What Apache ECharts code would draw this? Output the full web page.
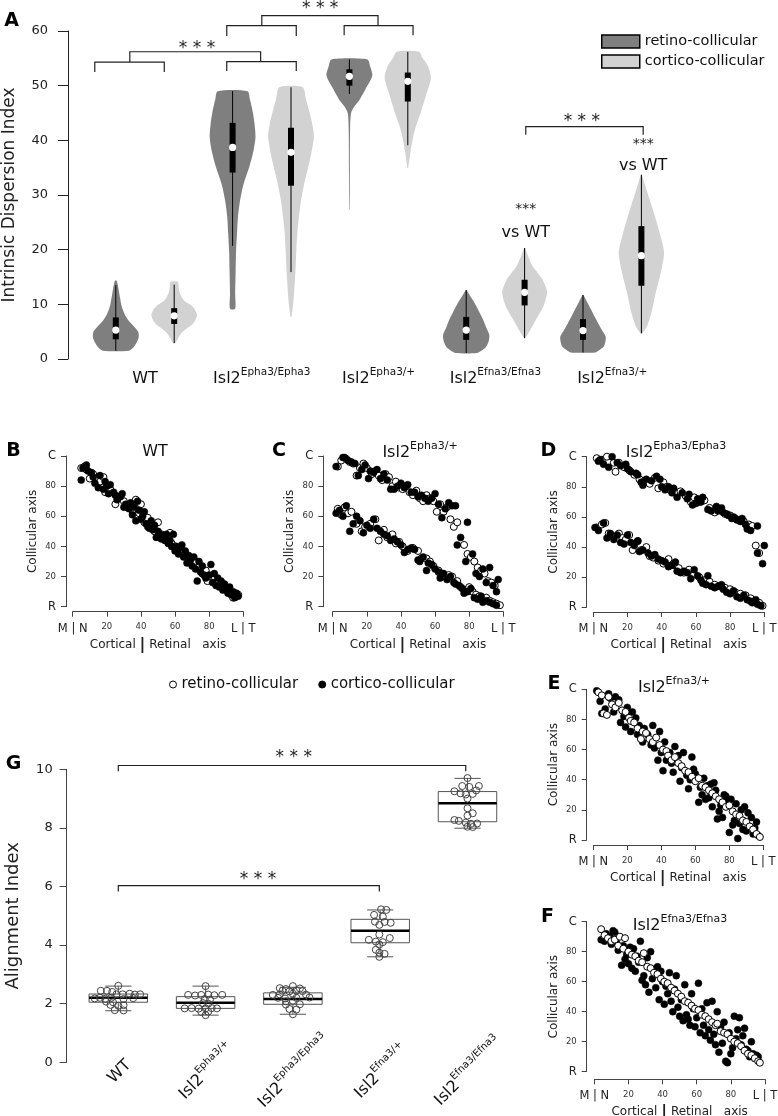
<!DOCTYPE html>
<html><head><meta charset="utf-8">
<script src="https://cdn.jsdelivr.net/npm/echarts@6/dist/echarts.min.js"></script>
<style>html,body{margin:0;padding:0;background:#fff}#c{width:778px;height:1116px}</style>
</head><body><div id="c"></div>
<script>
// ---------------- DATA ----------------
// Panel A: violin groups and density profiles ([value, relative density])
const groupLabelsA = ['WT', 'Isl2^Epha3/Epha3', 'Isl2^Epha3/+', 'Isl2^Efna3/Efna3', 'Isl2^Efna3/+'];
const densWTret = [[1.5,0.55],[2.2,0.77],[3,0.89],[4,0.98],[5,0.96],[6,0.77],[7,0.55],[8,0.40],[9,0.30],[10,0.23],[11,0.19],[12,0.15],[13,0.11],[14.3,0.04]];
const densWTcor = [[2.9,0.04],[3.8,0.17],[4.7,0.30],[5.5,0.51],[6.2,0.74],[7,0.89],[8,0.98],[9,0.89],[9.8,0.74],[10.5,0.47],[11.3,0.32],[12.2,0.23],[13.1,0.19],[14.1,0.16]];
const densEpha3HomRet = [[9.2,0.11],[12,0.11],[16,0.13],[20,0.15],[23,0.19],[26,0.23],[29,0.32],[32,0.47],[35.2,0.72],[38,0.89],[40.6,0.98],[43,0.94],[45.5,0.85],[47.5,0.74],[49,0.64]];
const densEpha3HomCor = [[7.7,0.02],[10.8,0.11],[14,0.16],[17,0.20],[20,0.23],[23,0.27],[26,0.34],[29,0.43],[32.7,0.60],[36.4,0.81],[40.6,0.98],[43,0.91],[45.5,0.77],[47.5,0.64],[49.7,0.50]];
const densEpha3HetRet = [[27.3,0.01],[35,0.02],[42,0.03],[45,0.07],[46.2,0.21],[47.4,0.43],[49.3,0.68],[51.8,0.98],[53.5,0.89],[54.8,0.77]];
const densEpha3HetCor = [[34.9,0.01],[37.7,0.11],[40.2,0.21],[42.6,0.35],[45,0.55],[48.1,0.77],[51.4,0.99],[53.5,0.87],[55,0.64],[56.2,0.47]];
const densEfna3HomRet = [[1.1,0.47],[1.6,0.68],[2.2,0.85],[3.2,0.96],[4.4,0.99],[5.8,0.85],[7.3,0.71],[8.5,0.57],[9.7,0.43],[10.8,0.28],[11.8,0.13],[12.6,0.02]];
const densEfna3HomCor = [[3.8,0.02],[5.3,0.24],[7.3,0.50],[9.7,0.81],[12.3,0.96],[14.5,0.77],[15.7,0.57],[16.9,0.35],[18.7,0.16],[20.3,0.02]];
const densEfna3HetRet = [[1.2,0.53],[1.7,0.72],[2.3,0.89],[3.2,0.96],[4.1,0.97],[5.3,0.81],[6.6,0.64],[7.8,0.49],[9,0.35],[10.3,0.19],[11.7,0.02]];
const densEfna3HetCor = [[4.7,0.04],[6.1,0.25],[8.5,0.43],[12.2,0.62],[15.8,0.83],[19.5,0.97],[23.1,0.78],[26.8,0.53],[30.4,0.26],[33.7,0.02]];
// [whisker low, q1, median, q3, whisker high]
const statsWTret = [1.5, 3.6, 5.3, 7.6, 13.5];
const statsWTcor = [2.9, 6.4, 7.9, 9.3, 13.6];
const statsEpha3HomRet = [20.7, 34.1, 38.7, 43.2, 49];
const statsEpha3HomCor = [15.9, 31.7, 37.8, 42.3, 49.7];
const statsEpha3HetRet = [48.5, 50, 51.7, 53, 54.8];
const statsEpha3HetCor = [39.1, 47.1, 50.8, 52.4, 56.2];
const statsEfna3HomRet = [1.1, 3.5, 5.3, 7.7, 12.6];
const statsEfna3HomCor = [3.8, 9.8, 12.2, 14.5, 20.3];
const statsEfna3HetRet = [1.2, 3.5, 5.2, 7.3, 11.7];
const statsEfna3HetCor = [4.7, 13.4, 18.9, 24.3, 33.7];
// significance brackets in A: [x1, x2, barValue, legEndValue]
const bracketsA = [[-0.36,0.83,54.3,52.5],[1.90,3.09,54.4,52.7],[0.24,2.48,56.2,54.35],[1.90,3.09,61.0,59.1],[3.91,5.09,61.0,59.2],[2.50,4.49,62.8,61.0],[7.02,9.03,42.5,41.0]];
const annotA = [[1.39,56.8],[3.5,64.1],[7.98,43.5],[9.03,39.2],[9.03,35.3],[7.02,27.3],[7.02,23.0]];
const annotAText = ['* * *','* * *','* * *','***','vs WT','***','vs WT'];
const annotAKind = ['big','big','big','small','vs','small','vs'];

// Panels B-F: [cortical/retinal axis, collicular axis]
const wtRetino = [[5,92],[7,93],[8,91],[10,85],[12,88],[14,84],[16,83],[18,86],[19,76],[22,78],[25,68],[27,73],[30,70],[32,66],[35,64],[37,71],[39,62],[40,68],[42,56],[44,59],[46,54],[48,50],[50,56],[52,48],[54,47],[57,49],[58,42],[60,40],[62,38],[64,36],[66,35],[68,30],[70,29],[72,30],[74,26],[76,22],[78,24],[79,17],[81,20],[83,18],[85,16],[87,14],[89,12],[91,10],[93,8],[94,6],[96,7],[97,8]];
const wtCortico = [[5,84],[6,92],[8,94],[9,90],[11,89],[12,86],[13,82],[15,79],[16,87],[18,78],[19,83],[20,80],[21,75],[22,81],[24,76],[25,74],[26,71],[28,73],[29,75],[30,66],[31,68],[33,65],[34,69],[35,61],[36,66],[37,57],[38,70],[39,64],[40,58],[41,60],[42,63],[43,55],[44,53],[45,52],[46,57],[47,51],[48,54],[49,46],[50,50],[51,48],[52,45],[53,47],[54,44],[55,48],[56,42],[57,44],[58,40],[59,48],[60,37],[61,40],[62,35],[63,39],[64,41],[65,33],[66,37],[67,29],[68,34],[69,31],[70,27],[71,33],[72,25],[73,17],[74,30],[75,23],[76,27],[77,21],[78,19],[80,21],[81,28],[82,16],[83,22],[84,14],[85,19],[86,13],[87,17],[88,11],[89,15],[90,12],[91,9],[92,13],[93,8],[94,10],[95,6],[96,9],[97,7]];
const epha3HetRetino = [[3,93],[5,97],[8,98],[10,96],[12,95],[14,87],[16,92],[18,95],[20,92],[23,88],[25,90],[27,87],[29,84],[31,88],[33,86],[35,80],[37,83],[39,79],[41,78],[43,80],[45,76],[47,74],[49,77],[51,72],[53,70],[55,74],[57,72],[59,70],[61,63],[63,68],[65,63],[67,66],[69,58],[71,53],[73,56],[77,41],[79,35],[81,33],[83,30],[85,26],[87,24],[89,22],[91,17],[93,16],[95,14],
  [3,65],[5,61],[7,66],[9,62],[11,63],[14,55],[17,50],[19,53],[22,55],[25,58],[27,44],[30,51],[32,46],[35,48],[37,42],[39,43],[41,40],[44,37],[47,39],[50,37],[52,32],[55,32],[57,30],[59,27],[62,24],[64,22],[66,20],[68,21],[70,20],[73,17],[75,13],[78,11],[80,13],[82,10],[84,8],[86,7],[88,5],[90,6],[92,4],[94,3],[96,2],[98,1]];
const epha3HetCortico = [[2,93],[6,99],[7,99],[9,97],[11,96],[13,95],[15,87],[17,91],[19,94],[21,85],[22,90],[24,89],[26,91],[28,85],[30,88],[32,84],[34,78],[36,78],[38,80],[40,82],[42,79],[44,81],[46,76],[48,76],[50,73],[52,74],[54,72],[56,70],[58,72],[60,75],[62,68],[64,59],[66,65],[68,69],[70,67],[72,67],[73,41],[75,46],[78,30],[79,56],[82,35],[84,22],[86,20],[88,25],[90,16],[92,26],[94,14],[96,10],[97,18],
  [2,62],[4,64],[6,60],[8,67],[10,50],[12,55],[14,60],[16,57],[18,49],[20,54],[22,52],[24,58],[26,52],[28,50],[30,48],[32,47],[34,44],[36,45],[38,43],[40,41],[42,36],[44,38],[46,39],[48,38],[50,31],[51,30],[53,33],[55,24],[56,29],[58,28],[60,25],[62,23],[63,19],[65,22],[67,18],[69,20],[71,16],[72,15],[74,14],[76,12],[77,9],[79,10],[81,12],[83,6],[85,5],[87,7],[88,3],[90,4],[92,3],[94,2],[96,1]];
const epha3HomRetino = [[2,99],[5,98],[8,100],[12,96],[13,90],[15,96],[18,93],[21,91],[24,88],[27,85],[30,84],[33,82],[36,86],[38,79],[41,83],[43,80],[45,78],[48,76],[51,77],[54,74],[57,70],[59,73],[62,70],[65,71],[68,66],[71,63],[74,65],[77,62],[80,61],[83,59],[85,58],[88,57],[91,55],[93,54],[95,41],[97,36],
  [2,53],[5,55],[7,56],[9,49],[12,47],[15,49],[17,46],[19,45],[21,48],[23,38],[26,44],[28,38],[31,40],[33,34],[35,33],[38,31],[41,29],[44,32],[47,28],[50,26],[53,23],[56,25],[59,22],[62,20],[65,18],[68,17],[71,15],[74,14],[77,13],[80,12],[83,10],[86,9],[89,8],[92,6],[95,4],[97,3],[99,1]];
const epha3HomCortico = [[3,97],[4,98],[6,95],[9,93],[11,100],[14,96],[16,94],[19,95],[20,92],[22,90],[25,89],[26,88],[28,83],[29,81],[31,85],[34,84],[37,87],[39,85],[40,80],[42,78],[44,80],[46,76],[47,79],[49,73],[52,76],[55,72],[56,75],[58,68],[60,69],[61,72],[63,70],[64,73],[67,65],[69,64],[72,67],[73,64],[75,66],[76,63],[78,62],[79,61],[81,59],[82,60],[84,58],[86,57],[87,59],[89,55],[90,52],[92,51],[96,54],[96,36],[99,29],[100,41],
  [1,53],[3,51],[6,56],[8,46],[10,49],[12,45],[14,48],[16,43],[18,42],[20,48],[22,43],[24,41],[26,44],[27,37],[29,38],[32,36],[34,34],[36,35],[38,32],[40,31],[42,30],[44,27],[46,28],[48,30],[49,24],[51,23],[53,24],[55,23],[57,19],[59,25],[61,21],[63,18],[64,16],[66,15],[67,21],[69,14],[71,13],[73,14],[75,15],[76,12],[78,10],[80,9],[82,11],[84,7],[86,6],[88,8],[90,5],[92,4],[93,3],[95,5],[96,2],[98,1]];
const efna3HetRetino = [[3,98],[5,96],[6,84],[8,83],[9,95],[11,90],[13,88],[15,91],[17,86],[19,85],[21,81],[22,79],[24,78],[26,74],[28,67],[29,72],[31,71],[33,67],[35,65],[37,68],[39,63],[41,60],[43,59],[44,56],[46,53],[48,55],[50,51],[52,49],[54,46],[56,45],[58,42],[60,39],[62,41],[64,36],[66,35],[68,33],[70,31],[72,29],[74,27],[76,25],[78,22],[80,23],[82,19],[84,17],[86,16],[88,13],[90,12],[92,9],[94,7],[96,4],[98,2]];
const efna3HetCortico = [[2,99],[4,92],[5,84],[7,87],[9,97],[10,94],[12,85],[13,95],[15,93],[16,78],[18,82],[19,75],[20,88],[22,72],[23,85],[25,81],[26,70],[27,76],[29,65],[30,74],[32,70],[34,63],[35,76],[36,61],[38,53],[39,72],[40,58],[41,46],[42,65],[43,53],[45,58],[46,51],[47,45],[48,62],[50,56],[51,39],[52,48],[53,58],[55,43],[56,34],[57,40],[58,55],[59,47],[60,44],[62,25],[63,35],[64,30],[65,41],[66,27],[67,36],[68,28],[69,37],[70,22],[71,38],[72,33],[73,14],[74,19],[75,23],[76,15],[77,30],[78,29],[79,26],[80,5],[81,27],[82,10],[83,13],[84,24],[85,1],[86,11],[87,20],[88,7],[89,22],[90,6],[91,18],[92,9],[93,15],[94,4],[95,8],[96,12],[97,3]];
const efna3HomRetino = [[4,95],[6,91],[8,89],[10,87],[12,88],[14,84],[15,90],[17,82],[18,89],[20,80],[22,78],[24,77],[26,74],[28,73],[29,79],[31,70],[33,69],[35,66],[37,65],[39,62],[41,60],[43,59],[45,56],[47,54],[49,52],[51,50],[53,47],[55,46],[57,44],[59,42],[61,41],[63,38],[65,37],[67,35],[69,33],[71,31],[72,32],[74,27],[76,26],[78,25],[80,22],[82,20],[84,19],[86,17],[88,14],[90,12],[92,11],[94,9],[96,7],[97,6]];
const efna3HomCortico = [[4,88],[6,87],[7,92],[9,90],[10,85],[11,94],[12,93],[13,86],[14,81],[16,71],[17,84],[18,75],[19,78],[20,72],[21,83],[22,69],[23,82],[24,67],[25,77],[26,73],[27,87],[28,61],[29,64],[30,58],[31,76],[32,53],[33,80],[34,62],[35,68],[36,56],[37,70],[38,48],[39,67],[40,60],[41,45],[42,57],[43,52],[44,66],[45,47],[46,40],[47,55],[48,64],[49,43],[50,37],[51,48],[52,34],[53,58],[54,38],[55,35],[56,31],[57,52],[58,42],[59,30],[60,36],[61,59],[62,26],[63,42],[64,31],[65,24],[66,46],[67,28],[68,21],[69,47],[70,25],[71,18],[72,40],[73,13],[74,30],[75,19],[76,33],[77,7],[78,6],[79,26],[80,12],[81,16],[82,37],[83,22],[84,28],[85,36],[86,18],[87,24],[88,29],[89,15],[90,14],[91,10],[92,20],[93,12],[94,9],[95,11],[96,10]];
const scatterTitles = ['WT', 'Isl2^Epha3/+', 'Isl2^Epha3/Epha3', 'Isl2^Efna3/+', 'Isl2^Efna3/Efna3'];

// Panel G
const groupLabelsG = ['WT', 'Isl2^Epha3/+', 'Isl2^Epha3/Epha3', 'Isl2^Efna3/+', 'Isl2^Efna3/Efna3'];
const boxWT = [1.76, 2.05, 2.2, 2.33, 2.6];
const boxEpha3Het = [1.61, 1.84, 2.03, 2.24, 2.6];
const boxEpha3Hom = [1.64, 1.98, 2.16, 2.37, 2.56];
const boxEfna3Het = [3.6, 4.08, 4.49, 4.88, 5.2];
const boxEfna3Hom = [7.99, 8.21, 8.84, 9.24, 9.69];
// [jitter, alignment index]
const ptsWT = [[0,2.61],[-0.2,2.44],[-0.13,2.44],[-0.07,2.40],[-0.02,2.32],[0.05,2.32],[0.13,2.34],[0.19,2.31],[0.25,2.32],[-0.27,2.18],[-0.21,2.20],[-0.15,2.17],[-0.08,2.20],[0.06,2.16],[0.17,2.19],[-0.14,2.07],[-0.06,2.05],[-0.09,1.96],[0,1.93],[0.06,1.95],[-0.04,1.78],[0.06,1.77]];
const ptsEpha3Het = [[0,2.6],[-0.2,2.3],[-0.12,2.28],[-0.05,2.3],[0.03,2.31],[0.1,2.29],[0.19,2.3],[-0.01,2.16],[0.05,2.14],[-0.03,2.02],[0.03,2.0],[-0.24,1.84],[-0.16,1.85],[-0.08,1.83],[0,1.84],[0.07,1.85],[0.13,1.84],[-0.05,1.72],[0.03,1.73],[0,1.61]];
const ptsEpha3Hom = [[0,2.6],[-0.15,2.53],[-0.08,2.5],[0.08,2.52],[-0.12,2.44],[-0.04,2.42],[0.04,2.45],[0.11,2.43],[-0.23,2.3],[-0.15,2.32],[0,2.34],[0.15,2.31],[-0.17,2.2],[-0.09,2.18],[0.04,2.2],[0.19,2.21],[-0.08,2.08],[0,2.1],[-0.08,1.97],[0.08,1.98],[-0.04,1.82],[0.04,1.8],[0,1.64]];
const ptsEfna3Het = [[0.01,5.22],[0.07,5.2],[-0.07,5.03],[0.03,4.97],[-0.06,4.8],[0.05,4.79],[0.12,4.76],[-0.01,4.69],[-0.01,4.36],[0.11,4.24],[-0.13,4.18],[-0.05,4.12],[0.03,4.1],[-0.01,4.02],[-0.05,3.84],[-0.01,3.74],[0.05,3.7],[-0.01,3.6]];
const ptsEfna3Hom = [[0,9.7],[-0.06,9.43],[0.02,9.4],[0.13,9.43],[-0.15,9.25],[-0.08,9.18],[-0.02,9.14],[0.06,9.16],[0.1,9.28],[0,9.0],[0,8.67],[0.06,8.5],[0,8.42],[-0.15,8.27],[-0.1,8.24],[-0.02,8.18],[0.04,8.14],[0.11,8.15],[0,8.04],[0.06,8.03]];
const bracketsG = [[0,3.98,10.13,9.93],[0,2.99,6.03,5.83]];
const annotG = [[2.01,10.41],[1.6,6.25]];
const annotGText = ['* * *','* * *'];

// ---------------- BUILD ----------------
const FONT = 'DejaVu Sans';
const DARK = '#7f7f7f', LIGHT = '#d2d2d2';
const violinDensity = [densWTret, densWTcor, densEpha3HomRet, densEpha3HomCor, densEpha3HetRet, densEpha3HetCor, densEfna3HomRet, densEfna3HomCor, densEfna3HetRet, densEfna3HetCor];
const violinStats = [statsWTret, statsWTcor, statsEpha3HomRet, statsEpha3HomCor, statsEpha3HetRet, statsEpha3HetCor, statsEfna3HomRet, statsEfna3HomCor, statsEfna3HetRet, statsEfna3HetCor];
const boxStats = [boxWT, boxEpha3Het, boxEpha3Hom, boxEfna3Het, boxEfna3Hom];
const groupPts = [ptsWT, ptsEpha3Het, ptsEpha3Hom, ptsEfna3Het, ptsEfna3Hom];
const HALF = 0.4;

function rich(s) {
  const p = s.split('^');
  return p.length > 1 ? '{m|' + p[0] + '}{s|' + p[1] + '}' : '{m|' + p[0] + '}';
}

function violinRender(color) {
  return function (params, api) {
    const idx = api.value(0);
    const prof = violinDensity[idx], st = violinStats[idx];
    const pts = [];
    for (let k = 0; k < prof.length; k++) pts.push(api.coord([idx + prof[k][1] * HALF, prof[k][0]]));
    for (let k = prof.length - 1; k >= 0; k--) pts.push(api.coord([idx - prof[k][1] * HALF, prof[k][0]]));
    const lo = api.coord([idx, st[0]]), q1 = api.coord([idx, st[1]]), md = api.coord([idx, st[2]]), q3 = api.coord([idx, st[3]]), hi = api.coord([idx, st[4]]);
    return { type: 'group', children: [
      { type: 'polygon', shape: { points: pts, smooth: 0.25 }, style: { fill: color } },
      { type: 'line', shape: { x1: lo[0], y1: lo[1], x2: hi[0], y2: hi[1] }, style: { stroke: '#000', lineWidth: 1 } },
      { type: 'rect', shape: { x: q1[0] - 3, y: q3[1], width: 6, height: q1[1] - q3[1] }, style: { fill: '#000' } },
      { type: 'circle', shape: { cx: md[0], cy: md[1], r: 3.6 }, style: { fill: '#fff' } }
    ] };
  };
}

function bracketRender(params, api) {
  const a = api.coord([api.value(0), api.value(3)]);
  const b = api.coord([api.value(0), api.value(2)]);
  const c = api.coord([api.value(1), api.value(2)]);
  const d = api.coord([api.value(1), api.value(3)]);
  return { type: 'polyline', shape: { points: [a, b, c, d] }, style: { stroke: '#222', lineWidth: 1.2, fill: null } };
}

const textKinds = {
  big: { fontSize: 17, fill: '#222' },
  small: { fontSize: 14, fill: '#222' },
  vs: { fontSize: 16, fill: '#111' }
};

function scatterAxes(gi, xOff, yOff) {
  const lc = { color: '#444', width: 1 };
  return {
    x: { gridIndex: gi, type: 'value', min: 0, max: 100, interval: 20, offset: xOff,
      axisLine: { show: true, onZero: false, lineStyle: lc }, axisTick: { show: true, length: 5, lineStyle: lc },
      splitLine: { show: false },
      axisLabel: { margin: 11, fontFamily: FONT, fontSize: 8.5, color: '#333', showMinLabel: true, showMaxLabel: true,
        formatter: v => v === 0 ? '{b|M | N}' : v === 100 ? '{b|L | T}' : String(v),
        rich: { b: { fontSize: 11.5, fontFamily: FONT, color: '#222' } } },
      name: '{t|Cortical }{bar||}{t| Retinal   axis}', nameLocation: 'middle', nameGap: 25,
      nameTextStyle: { rich: { t: { fontSize: 12, fontFamily: FONT, color: '#222' }, bar: { fontSize: 16, fontWeight: 'bold', fontFamily: FONT, color: '#222' } } }
    },
    y: { gridIndex: gi, type: 'value', min: 0, max: 100, interval: 20, offset: yOff,
      axisLine: { show: true, onZero: false, lineStyle: lc }, axisTick: { show: true, length: 5, lineStyle: lc },
      splitLine: { show: false },
      axisLabel: { margin: 10, fontFamily: FONT, fontSize: 8.5, color: '#333', showMinLabel: true, showMaxLabel: true,
        formatter: v => v === 100 ? '{b|C}' : v === 0 ? '{b|R}' : String(v),
        rich: { b: { fontSize: 11.5, fontFamily: FONT, color: '#222' } } },
      name: 'Collicular axis', nameLocation: 'middle', nameGap: 27,
      nameTextStyle: { fontSize: 12, fontFamily: FONT, color: '#222' }
    }
  };
}

const sB = scatterAxes(1, 5, 6.7), sC = scatterAxes(2, 5, 9.4), sD = scatterAxes(3, 4.7, 6.6), sE = scatterAxes(4, 5, 6.6), sF = scatterAxes(5, 7.6, 7.6);

function scatterSeries(name, data, xi, yi, open, z) {
  return { type: 'scatter', name: name, data: data, xAxisIndex: xi, yAxisIndex: yi, symbol: 'circle', symbolSize: 7, z: z,
    itemStyle: open ? { color: '#fff', borderColor: '#000', borderWidth: 1, opacity: 1 } : { color: '#000', borderColor: '#000', borderWidth: 0.5, opacity: 1 },
    emphasis: { disabled: true }, silent: true };
}

const richTitle = {
  m: { fontSize: 16, fontFamily: FONT, fill: '#111', lineHeight: 20, verticalAlign: 'bottom' },
  s: { fontSize: 11, fontFamily: FONT, fill: '#111', lineHeight: 10, verticalAlign: 'top' }
};

const panelLetters = [['A', 11.5, 21.5], ['B', 13.5, 451.5], ['C', 279, 451], ['D', 548.5, 451], ['E', 554, 684.5], ['F', 547.5, 916.7], ['G', 13.5, 764]];
const titlePos = [[155, 450], [420, 451], [676, 451], [674, 686], [680, 924]];

const graphics = [];
panelLetters.forEach(p => graphics.push({ type: 'text', x: p[1], y: p[2], style: { text: p[0], font: 'bold 19px "DejaVu Sans"', fill: '#000', align: 'center', verticalAlign: 'middle' } }));
scatterTitles.forEach((t, i) => graphics.push({ type: 'text', x: titlePos[i][0], y: titlePos[i][1], style: { text: rich(t), rich: richTitle, align: 'center', verticalAlign: 'middle', fill: '#111', fontFamily: FONT } }));

const G0 = { containLabel: false, outerBoundsMode: 'none' };
const option = {
  animation: false,
  backgroundColor: '#fff',
  textStyle: { fontFamily: FONT },
  grid: [
    Object.assign({ left: 86.6, top: 31, width: 584, height: 328 }, G0),
    Object.assign({ left: 72.7, top: 456, width: 170.6, height: 150.7 }, G0),
    Object.assign({ left: 332.7, top: 456, width: 170.6, height: 150.7 }, G0),
    Object.assign({ left: 593.3, top: 456.7, width: 171, height: 150.6 }, G0),
    Object.assign({ left: 593.3, top: 689.3, width: 170, height: 150.7 }, G0),
    Object.assign({ left: 594.3, top: 921.7, width: 170.7, height: 150 }, G0),
    Object.assign({ left: 74.65, top: 769.3, width: 436.5, height: 293 }, G0)
  ],
  xAxis: [
    { gridIndex: 0, type: 'value', min: -0.5, max: 9.5, show: false, axisLine: { onZero: false } },
    { gridIndex: 0, type: 'category', data: groupLabelsA, position: 'bottom', boundaryGap: true,
      axisLine: { show: false, onZero: false }, axisTick: { show: false }, splitLine: { show: false },
      axisLabel: { margin: 8, interval: 0, formatter: v => rich(v),
        rich: { m: { fontSize: 16, fontFamily: FONT, color: '#111', lineHeight: 20, verticalAlign: 'bottom' },
                s: { fontSize: 10.5, fontFamily: FONT, color: '#111', lineHeight: 8, verticalAlign: 'top' } } } },
    sB.x, sC.x, sD.x, sE.x, sF.x,
    { gridIndex: 6, type: 'value', min: -0.5, max: 4.5, show: false, axisLine: { onZero: false } }
  ],
  yAxis: [
    { gridIndex: 0, type: 'value', min: 0, max: 60, interval: 10, offset: 18.6,
      axisLine: { show: true, onZero: false, lineStyle: { color: '#222', width: 1 } },
      axisTick: { show: true, length: 10, lineStyle: { color: '#222' } },
      splitLine: { show: false },
      axisLabel: { margin: 20, fontSize: 13, fontFamily: FONT, color: '#222' },
      name: 'Intrinsic Dispersion Index', nameLocation: 'middle', nameGap: 50,
      nameTextStyle: { fontSize: 17, fontFamily: FONT, color: '#222' } },
    sB.y, sC.y, sD.y, sE.y, sF.y,
    { gridIndex: 6, type: 'value', min: 0, max: 10, interval: 2, offset: 8,
      axisLine: { show: true, onZero: false, lineStyle: { color: '#444', width: 1 } },
      axisTick: { show: true, length: 7, lineStyle: { color: '#444' } },
      splitLine: { show: false },
      axisLabel: { margin: 14, fontSize: 13, fontFamily: FONT, color: '#222' },
      name: 'Alignment Index', nameLocation: 'middle', nameGap: 44,
      nameTextStyle: { fontSize: 18, fontFamily: FONT, color: '#222' } }
  ],
  legend: [
    { left: 601, top: 34, padding: 0, orient: 'vertical', itemWidth: 38, itemHeight: 13, itemGap: 5, selectedMode: false,
      textStyle: { fontSize: 14.5, fontFamily: FONT, color: '#111' },
      data: [ { name: 'retino-collicular', icon: 'rect', itemStyle: { color: DARK, borderColor: '#000', borderWidth: 1.5 } },
              { name: 'cortico-collicular', icon: 'rect', itemStyle: { color: LIGHT, borderColor: '#000', borderWidth: 1.5 } } ] },
    { left: 169, top: 677, padding: 0, orient: 'horizontal', itemWidth: 7, itemHeight: 7, itemGap: 20, selectedMode: false,
      textStyle: { fontSize: 15, fontFamily: FONT, color: '#111' },
      data: [ { name: 'retino-collicular', icon: 'circle', itemStyle: { color: '#fff', borderColor: '#000', borderWidth: 1 } },
              { name: 'cortico-collicular', icon: 'circle', itemStyle: { color: '#000', borderColor: '#000', borderWidth: 1 } } ] }
  ],
  graphic: { elements: graphics },
  series: [
    { type: 'custom', name: 'retino-collicular', xAxisIndex: 0, yAxisIndex: 0, itemStyle: { color: DARK },
      data: [0, 2, 4, 6, 8].map(i => [i, violinStats[i][2]]), renderItem: violinRender(DARK), silent: true },
    { type: 'custom', name: 'cortico-collicular', xAxisIndex: 0, yAxisIndex: 0, itemStyle: { color: LIGHT },
      data: [1, 3, 5, 7, 9].map(i => [i, violinStats[i][2]]), renderItem: violinRender(LIGHT), silent: true },
    { type: 'custom', name: 'bracketsA', xAxisIndex: 0, yAxisIndex: 0, encode: { x: [0, 1], y: [2, 3] },
      data: bracketsA, renderItem: bracketRender, silent: true, z: 5 },
    { type: 'custom', name: 'annotA', xAxisIndex: 0, yAxisIndex: 0, data: annotA, silent: true, z: 5,
      renderItem: (params, api) => {
        const p = api.coord([api.value(0), api.value(1)]);
        const k = textKinds[annotAKind[params.dataIndex]];
        return { type: 'text', x: p[0], y: p[1], style: { text: annotAText[params.dataIndex], fontSize: k.fontSize, fontFamily: FONT, fill: k.fill, align: 'center', verticalAlign: 'middle' } };
      } },
    // B-F
    scatterSeries('retino-collicular', wtRetino, 2, 1, true, 2),
    scatterSeries('cortico-collicular', wtCortico, 2, 1, false, 3),
    scatterSeries('retino-collicular', epha3HetRetino, 3, 2, true, 2),
    scatterSeries('cortico-collicular', epha3HetCortico, 3, 2, false, 3),
    scatterSeries('retino-collicular', epha3HomRetino, 4, 3, true, 2),
    scatterSeries('cortico-collicular', epha3HomCortico, 4, 3, false, 3),
    scatterSeries('cortico-collicular', efna3HetCortico, 5, 4, false, 2),
    scatterSeries('retino-collicular', efna3HetRetino, 5, 4, true, 3),
    scatterSeries('cortico-collicular', efna3HomCortico, 6, 5, false, 2),
    scatterSeries('retino-collicular', efna3HomRetino, 6, 5, true, 3),
    // G boxes
    { type: 'custom', name: 'boxG', xAxisIndex: 7, yAxisIndex: 6, silent: true, z: 2,
      data: boxStats.map((b, i) => [i].concat(b)), encode: { x: 0, y: [1, 2, 3, 4, 5] },
      renderItem: (params, api) => {
        const i = api.value(0);
        const lo = api.coord([i, api.value(1)]), q1 = api.coord([i, api.value(2)]), md = api.coord([i, api.value(3)]), q3 = api.coord([i, api.value(4)]), hi = api.coord([i, api.value(5)]);
        const bw = api.size([0.67, 0])[0], cw = api.size([0.3, 0])[0];
        const st = { stroke: '#555', lineWidth: 1 };
        return { type: 'group', children: [
          { type: 'line', shape: { x1: lo[0], y1: lo[1], x2: q1[0], y2: q1[1] }, style: st },
          { type: 'line', shape: { x1: q3[0], y1: q3[1], x2: hi[0], y2: hi[1] }, style: st },
          { type: 'line', shape: { x1: lo[0] - cw / 2, y1: lo[1], x2: lo[0] + cw / 2, y2: lo[1] }, style: st },
          { type: 'line', shape: { x1: hi[0] - cw / 2, y1: hi[1], x2: hi[0] + cw / 2, y2: hi[1] }, style: st },
          { type: 'rect', shape: { x: q1[0] - bw / 2, y: q3[1], width: bw, height: q1[1] - q3[1] }, style: { fill: 'none', stroke: '#555', lineWidth: 1 } },
          { type: 'line', shape: { x1: md[0] - bw / 2, y1: md[1], x2: md[0] + bw / 2, y2: md[1] }, style: { stroke: '#000', lineWidth: 2.5 } }
        ] };
      } },
    { type: 'scatter', name: 'pointsG', xAxisIndex: 7, yAxisIndex: 6, symbol: 'circle', symbolSize: 7, z: 3, silent: true,
      itemStyle: { color: 'rgba(255,255,255,0)', borderColor: '#444', borderWidth: 1, opacity: 1 },
      data: [].concat.apply([], groupPts.map((g, i) => g.map(p => [i + p[0], p[1]]))) },
    { type: 'custom', name: 'bracketsG', xAxisIndex: 7, yAxisIndex: 6, encode: { x: [0, 1], y: [2, 3] },
      data: bracketsG, renderItem: bracketRender, silent: true, z: 5 },
    { type: 'custom', name: 'annotG', xAxisIndex: 7, yAxisIndex: 6, data: annotG, silent: true, z: 5,
      renderItem: (params, api) => {
        const p = api.coord([api.value(0), api.value(1)]);
        return { type: 'text', x: p[0], y: p[1], style: { text: annotGText[params.dataIndex], fontSize: 17, fontFamily: FONT, fill: '#222', align: 'center', verticalAlign: 'middle' } };
      } },
    { type: 'custom', name: 'labelsG', xAxisIndex: 7, yAxisIndex: 6, data: groupLabelsG.map((g, i) => [i, 0]), silent: true, z: 5,
      renderItem: (params, api) => {
        const p = api.coord([api.value(0), 0]);
        return { type: 'text', x: p[0], y: p[1] + 8, rotation: Math.PI / 4,
          style: { text: rich(groupLabelsG[params.dataIndex]), align: 'center', verticalAlign: 'middle', fill: '#111', fontFamily: FONT,
            rich: { m: { fontSize: 16, fontFamily: FONT, fill: '#111', lineHeight: 20, verticalAlign: 'bottom' },
                    s: { fontSize: 10, fontFamily: FONT, fill: '#111', lineHeight: 8, verticalAlign: 'top' } } } };
      } }
  ]
};

const chart = echarts.init(document.getElementById('c'), null, { renderer: 'canvas', width: 778, height: 1116 });
chart.setOption(option);
</script></body></html>
